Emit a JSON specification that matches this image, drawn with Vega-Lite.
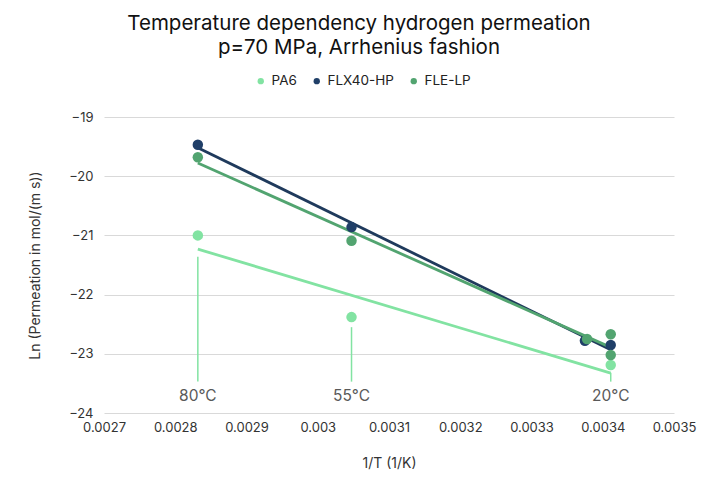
{
  "$schema": "https://vega.github.io/schema/vega-lite/v6.json",
  "width": 570,
  "height": 296,
  "autosize": {"type": "none"},
  "padding": {"left": 104, "top": 117, "right": 37, "bottom": 66},
  "config": {"font": "Inter", "view": {"stroke": null}},
  "title": {
    "text": ["Temperature dependency hydrogen permeation", "p=70 MPa, Arrhenius fashion"],
    "fontSize": 20.5,
    "fontWeight": "normal",
    "color": "#111111",
    "anchor": "middle",
    "dx": -30,
    "lineHeight": 24,
    "offset": 16
  },
  "datasets": {
    "pts": [
      {"series": "PA6", "x": 0.0028317, "y": -21.0},
      {"series": "PA6", "x": 0.0030474, "y": -22.38},
      {"series": "PA6", "x": 0.0034112, "y": -23.19},
      {"series": "FLX40-HP", "x": 0.0028317, "y": -19.47},
      {"series": "FLX40-HP", "x": 0.0030474, "y": -20.86},
      {"series": "FLX40-HP", "x": 0.003375, "y": -22.78},
      {"series": "FLX40-HP", "x": 0.0034112, "y": -22.85},
      {"series": "FLE-LP", "x": 0.0028317, "y": -19.68},
      {"series": "FLE-LP", "x": 0.0030474, "y": -21.09},
      {"series": "FLE-LP", "x": 0.003378, "y": -22.75},
      {"series": "FLE-LP", "x": 0.0034112, "y": -22.67},
      {"series": "FLE-LP", "x": 0.0034112, "y": -23.02}
    ],
    "ann": [
      {"temp": "80°C", "x": 0.0028317, "top": -21.36, "bottom": -23.47, "ly": -23.71},
      {"temp": "55°C", "x": 0.0030474, "top": -22.55, "bottom": -23.47, "ly": -23.71},
      {"temp": "20°C", "x": 0.0034112, "top": -23.32, "bottom": -23.47, "ly": -23.71}
    ]
  },
  "encoding": {
    "x": {
      "field": "x", "type": "quantitative",
      "scale": {"domain": [0.0027, 0.0035], "nice": false, "zero": false},
      "axis": {
        "values": [0.0027, 0.0028, 0.0029, 0.003, 0.0031, 0.0032, 0.0033, 0.0034, 0.0035],
        "format": "~g", "labelFlush": false, "labelOverlap": false,
        "grid": false, "ticks": false, "domain": false,
        "labelFontSize": 13, "labelColor": "#333333", "labelPadding": 8,
        "title": "1/T (1/K)", "titleFontSize": 14, "titleFontWeight": "normal",
        "titleColor": "#333333", "titlePadding": 22
      }
    },
    "y": {
      "field": "y", "type": "quantitative",
      "scale": {"domain": [-24, -19], "nice": false, "zero": false},
      "axis": {
        "values": [-24, -23, -22, -21, -20, -19],
        "grid": true, "gridColor": "#d9d9d9", "gridWidth": 1,
        "ticks": false, "domain": false,
        "labelFontSize": 13, "labelColor": "#333333", "labelPadding": 11,
        "title": "Ln (Permeation in mol/(m s))", "titleFontSize": 14,
        "titleFontWeight": "normal", "titleColor": "#333333", "titlePadding": 26
      }
    }
  },
  "layer": [
    {
      "data": {"name": "ann"},
      "mark": {"type": "rule", "color": "#82e3a2", "strokeWidth": 1.5},
      "encoding": {
        "y": {"field": "top", "type": "quantitative"},
        "y2": {"field": "bottom"}
      }
    },
    {
      "data": {"name": "ann"},
      "mark": {"type": "text", "fontSize": 15.5, "color": "#595959", "baseline": "middle", "align": "center"},
      "encoding": {
        "y": {"field": "ly", "type": "quantitative"},
        "text": {"field": "temp"}
      }
    },
    {
      "data": {"name": "pts"},
      "transform": [{"filter": "datum.series === 'PA6'"}, {"regression": "y", "on": "x"}],
      "mark": {"type": "line", "strokeWidth": 2.8, "color": "#82e3a2"},
      "encoding": {}
    },
    {
      "data": {"name": "pts"},
      "transform": [{"filter": "datum.series === 'FLX40-HP'"}, {"regression": "y", "on": "x"}],
      "mark": {"type": "line", "strokeWidth": 2.8, "color": "#1f3a5c"},
      "encoding": {}
    },
    {
      "data": {"name": "pts"},
      "transform": [{"filter": "datum.series === 'FLE-LP'"}, {"regression": "y", "on": "x"}],
      "mark": {"type": "line", "strokeWidth": 2.8, "color": "#52a470"},
      "encoding": {}
    },
    {
      "data": {"name": "pts"},
      "mark": {"type": "circle", "size": 110, "opacity": 1},
      "encoding": {
        "color": {
          "field": "series", "type": "nominal",
          "scale": {"domain": ["PA6", "FLX40-HP", "FLE-LP"], "range": ["#82e3a2", "#203f68", "#52a470"]},
          "legend": {
            "title": null, "orient": "none", "direction": "horizontal",
            "legendX": 150, "legendY": -43,
            "symbolSize": 40, "labelFontSize": 13.5, "labelColor": "#222222",
            "columnPadding": 13
          }
        }
      }
    }
  ]
}
